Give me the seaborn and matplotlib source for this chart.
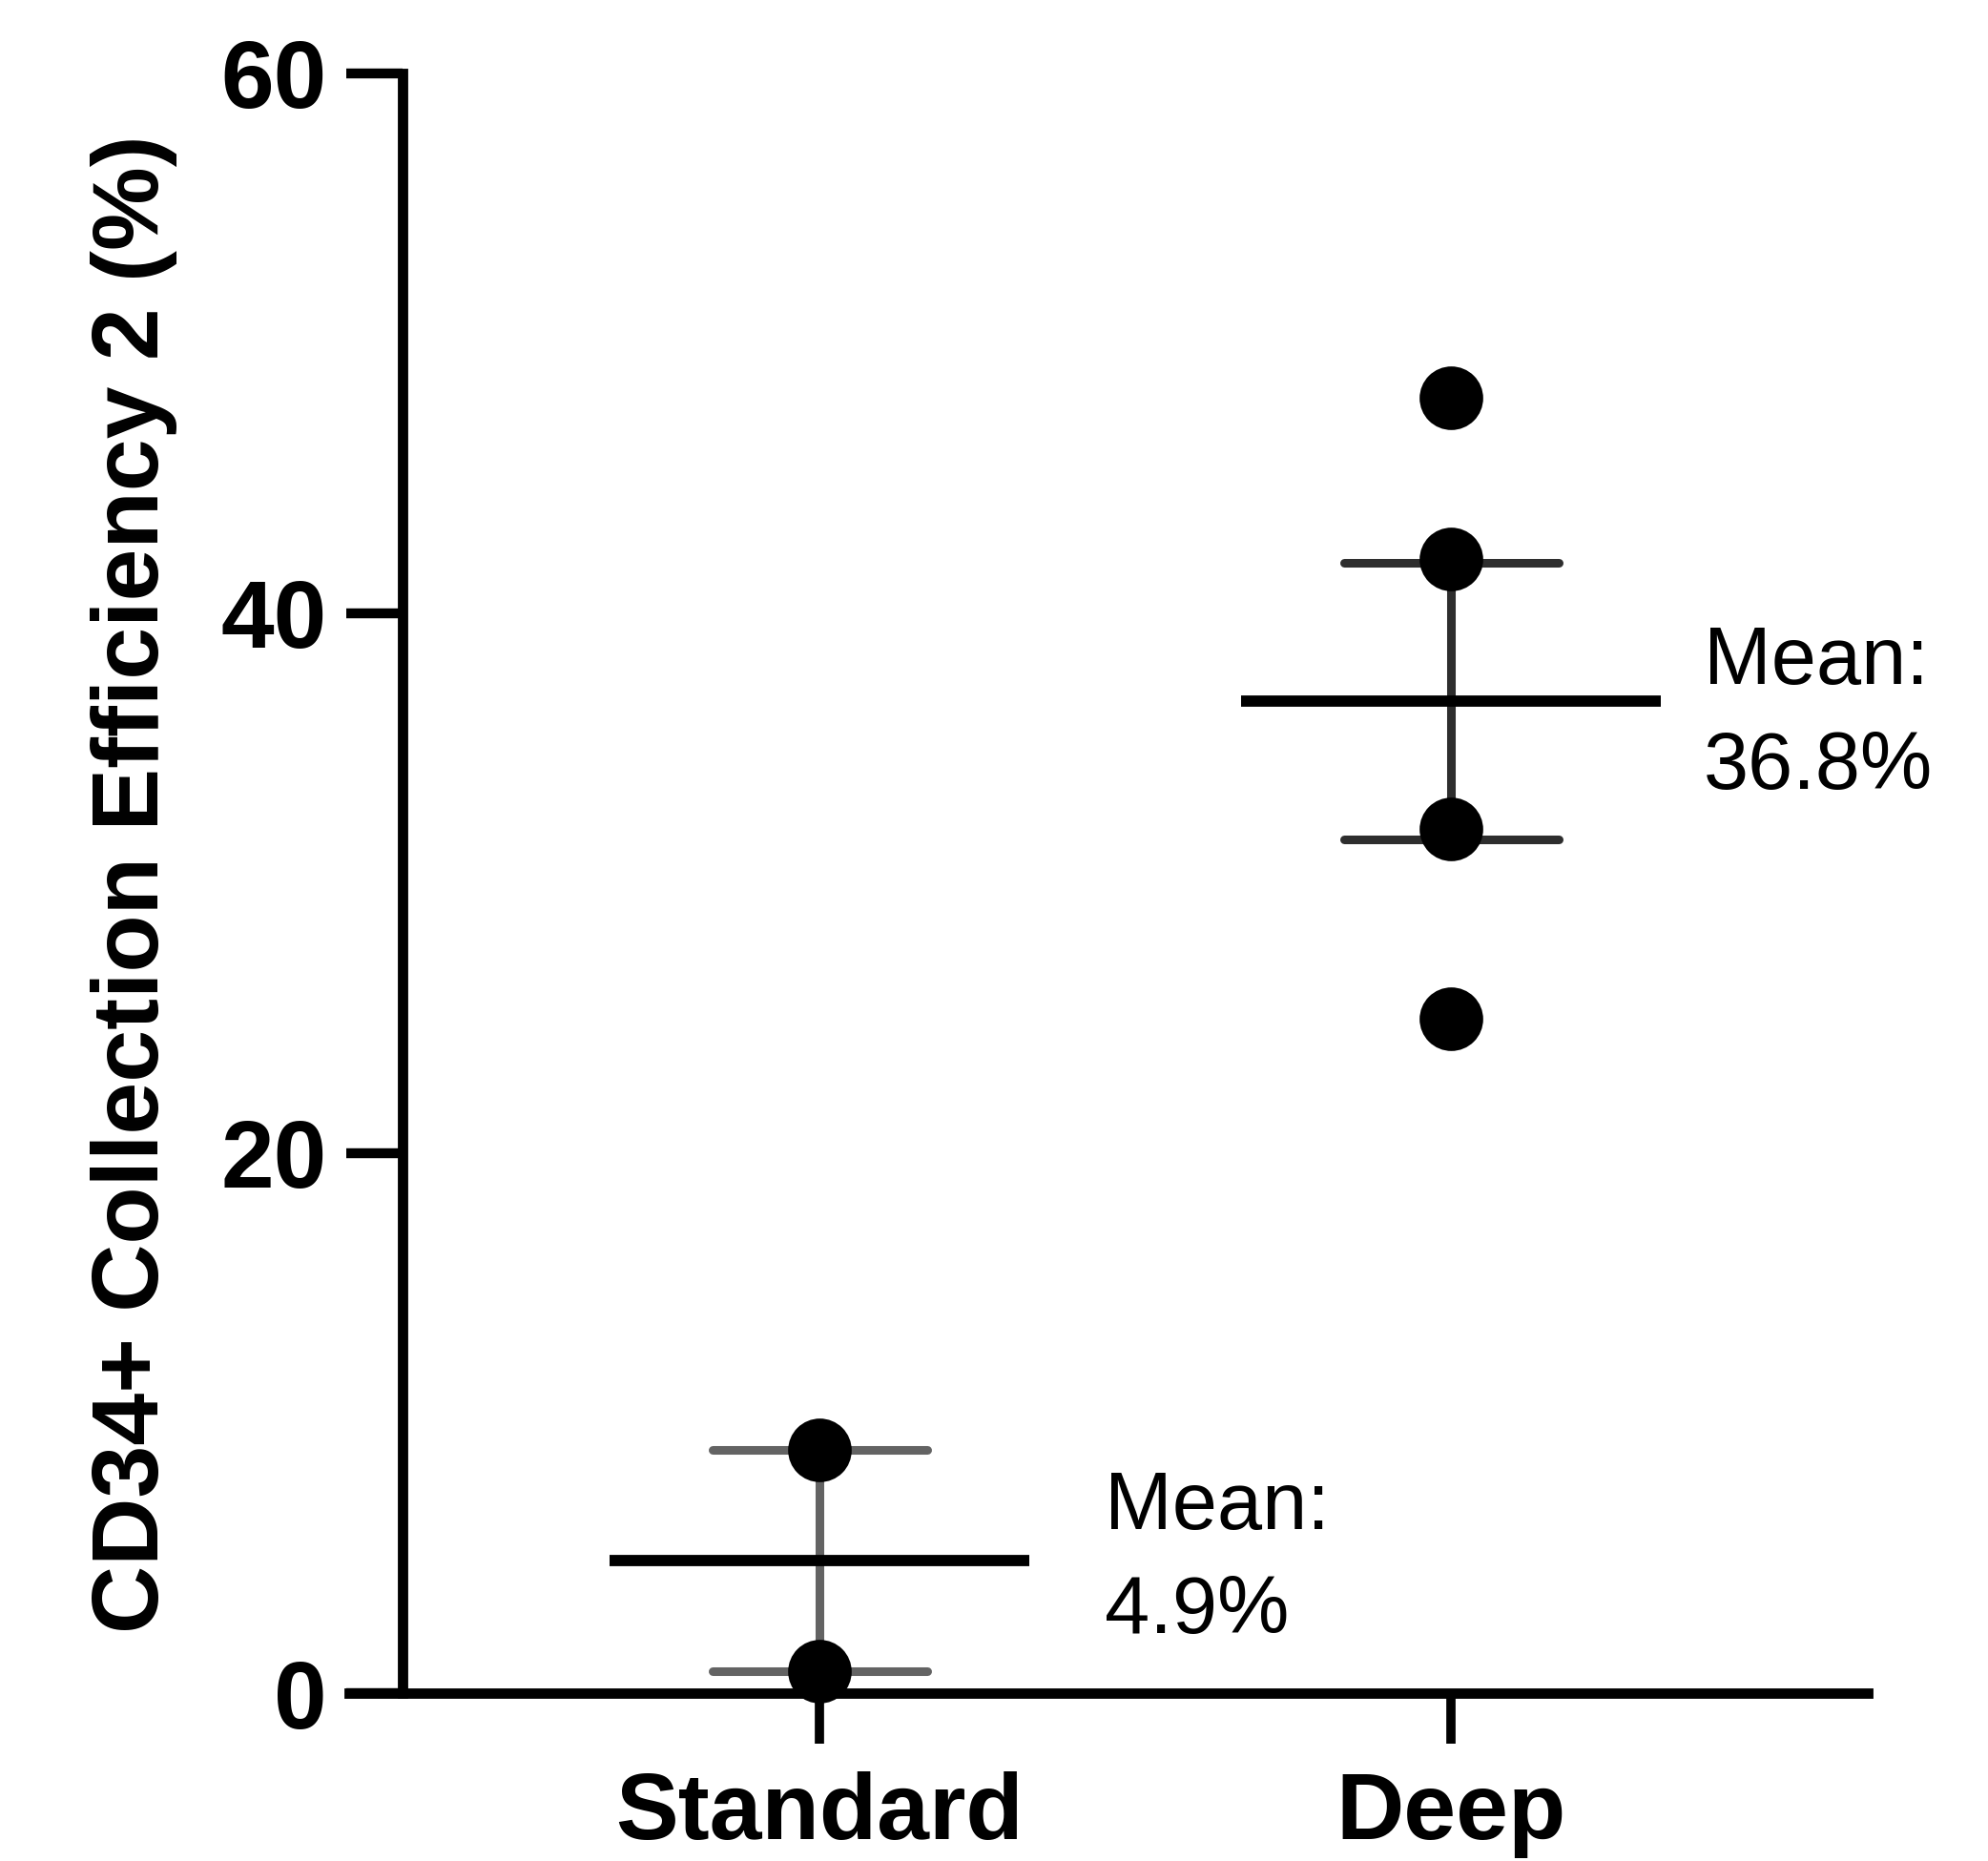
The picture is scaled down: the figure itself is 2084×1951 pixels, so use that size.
import numpy as np
import pandas as pd
import seaborn as sns
import matplotlib
matplotlib.use("Agg")
import matplotlib.pyplot as plt
from matplotlib import font_manager

# data
categories = ["Standard", "Deep"]
standard_vals = [9.0, 0.8]
deep_vals = [48.0, 42.0, 32.0, 25.0]
mean_labels = ["4.9%", "36.8%"]
y_ticks = [0, 20, 40, 60]
ylabel = "CD34+ Collection Efficiency 2 (%)"

# annotation placement (x offset from category, baselines of the two lines)
note_dx = [0.452, 0.40]
note_y1 = [6.08, 37.38]
note_y2 = [2.23, 33.5]
err_colors = {"Standard": "#636363", "Deep": "#2e2e2e"}

df = pd.DataFrame({
    "group": ["Standard"] * len(standard_vals) + ["Deep"] * len(deep_vals),
    "value": standard_vals + deep_vals,
})

sns.set_style("white")
plt.rcParams["font.family"] = ["Liberation Sans", "DejaVu Sans"]
plt.rcParams["text.color"] = "black"
plt.rcParams["xtick.color"] = "black"
plt.rcParams["ytick.color"] = "black"

names = {f.name for f in font_manager.fontManager.ttflist}
narrow = "Liberation Sans Narrow" in names
ylab_family = "Liberation Sans Narrow" if narrow else "Liberation Sans"
ylab_size = 87 if narrow else 71

W, H = 2084, 1951
fig = plt.figure(figsize=(W / 100, H / 100), dpi=100)
ax = fig.add_axes([366 / W, 1 - 1775 / H, (1958 - 366) / W, (1775 - 77) / H])

# error bars: mean +/- SEM
sns.pointplot(data=df, x="group", y="value", hue="group", order=categories,
              hue_order=categories, palette=err_colors, errorbar="se",
              capsize=0.34, markers="", linestyle="none", legend=False,
              err_kws={"linewidth": 6.5, "zorder": 2}, ax=ax)

# mean lines
sns.pointplot(data=df, x="group", y="value", order=categories, color="black",
              errorbar=None, markers="_", linestyle="none", markersize=317,
              markeredgewidth=8.5, zorder=3, ax=ax)

# individual points
sns.stripplot(data=df, x="group", y="value", order=categories, color="black",
              jitter=False, size=48, linewidth=0, zorder=5, clip_on=False, ax=ax)

ax.set_xlim(-0.745, 1.660)
ax.set_ylim(0, 60)
ax.set_yticks(y_ticks)
ax.set_xlabel("")
ax.set_ylabel("")

for s in ["top", "right"]:
    ax.spines[s].set_visible(False)
ax.spines["left"].set_position(("data", -0.66))
for s in ["left", "bottom"]:
    ax.spines[s].set_linewidth(7.8)
    ax.spines[s].set_color("black")

ax.tick_params(axis="y", direction="out", length=42.5, width=7.5, pad=15,
               labelsize=72, left=True, colors="black")
ax.tick_params(axis="x", direction="out", length=38, width=7, pad=21,
               labelsize=71, bottom=True, colors="black")
for lab in ax.get_xticklabels() + ax.get_yticklabels():
    lab.set_fontweight("bold")

for i, cat in enumerate(categories):
    ax.text(i + note_dx[i], note_y1[i], "Mean:", fontsize=61, va="baseline",
            ha="left", color="black")
    ax.text(i + note_dx[i], note_y2[i], mean_labels[i], fontsize=61,
            va="baseline", ha="left", color="black")

fig.text(141 / W, 1 - 927 / H, ylabel, rotation=90, ha="center", va="center",
         fontsize=ylab_size, fontweight="bold", family=ylab_family, color="black")

fig.savefig("out.png", dpi=100, facecolor="white")
